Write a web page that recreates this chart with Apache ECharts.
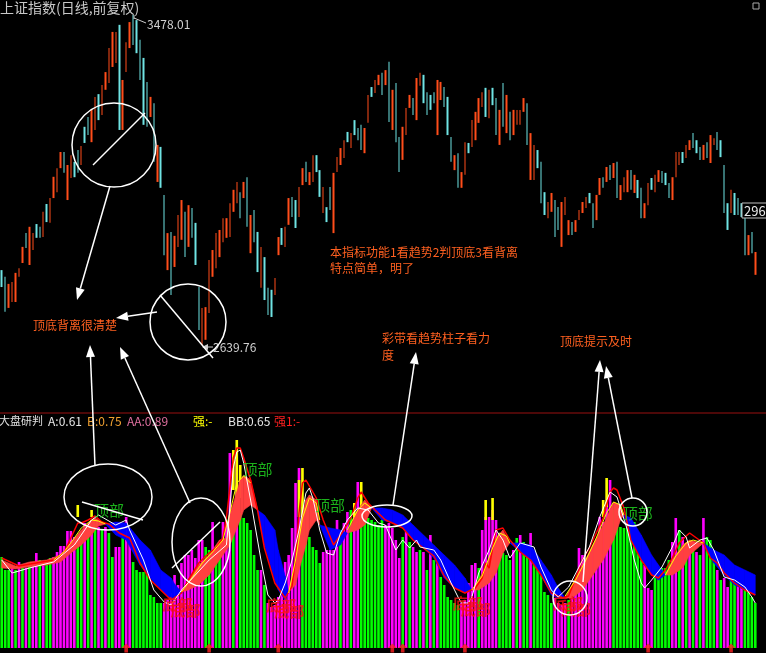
<!DOCTYPE html>
<html><head><meta charset="utf-8">
<script src="https://cdn.jsdelivr.net/npm/echarts@6/dist/echarts.min.js"></script>
<style>html,body{margin:0;padding:0;background:#000;}#c{width:766px;height:653px;}</style>
</head><body><div id="c"></div><script>
// ---------- top panel: daily bars (high / low / up-down) ----------
const highs = [2830,2813,2795,2800,2823,2835,2889,2924,2940,2924,
2947,2940,2978,2998,3013,3067,3089,3130,3130,3097,
3122,3105,3135,3145,3194,3219,3237,3270,3277,3300,
3333,3394,3435,3435,3453,3313,3409,3460,3478,3465,
3415,3369,3308,3270,3254,3148,3143,3021,2924,2927,
2917,2970,3008,2978,2995,2988,2950,2787,2734,2736,
2856,2881,2924,2932,2962,2962,3000,3034,3054,3028,
3054,3066,2970,2983,2927,2889,2863,2785,2780,2810,
2914,2937,2940,3013,3016,3008,3041,3089,3105,3079,
3122,3122,3084,3041,2990,3041,3077,3117,3140,3160,
3181,3178,3211,3191,3199,3191,3275,3295,3313,3326,
3331,3338,3359,3288,3305,3168,3194,3242,3275,3267,
3318,3331,3326,3282,3275,3282,3313,3308,3295,3270,
3168,3122,3127,3079,3155,3153,3211,3232,3267,3282,
3293,3288,3293,3267,3237,3305,3275,3232,3237,3237,
3237,3267,3254,3178,3148,3135,3105,3028,3003,3026,
3008,2990,3003,3016,2957,2952,2957,2983,3003,3016,
3026,3000,3021,3064,3066,3092,3097,3102,3105,3046,
3066,3084,3084,3072,3059,3039,3000,3051,3064,3072,
3084,3082,3077,3051,3066,3130,3130,3130,3148,3160,
3178,3160,3143,3148,3155,3173,3165,3181,3160,3097,
3000,3034,3026,3013,3000,2965,2919,2927,2876];
const lows = [2787,2724,2734,2749,2749,2813,2848,2886,2843,2881,
2912,2912,2914,2952,2950,3013,3028,3089,3077,3008,
3064,3066,3077,3097,3153,3173,3155,3186,3211,3224,
3288,3305,3346,3356,3186,3186,3333,3394,3402,3381,
3313,3199,3194,3219,3105,3054,3039,2868,2830,2767,
2838,2889,2907,2863,2889,2912,2843,2678,2640,2653,
2721,2813,2835,2863,2901,2912,2914,2978,3000,2962,
3013,2940,2873,2901,2825,2785,2754,2716,2711,2767,
2868,2894,2889,2945,2965,2937,2965,3046,3054,3046,
3054,3079,3016,2975,2952,2983,2924,3079,3097,3115,
3155,3140,3173,3160,3135,3127,3204,3270,3280,3300,
3275,3300,3206,3186,3155,3079,3110,3173,3242,3224,
3211,3298,3254,3224,3237,3254,3173,3262,3244,3173,
3105,3084,3039,3039,3072,3127,3143,3160,3204,3244,
3219,3216,3249,3173,3148,3194,3178,3160,3173,3199,
3199,3232,3148,3059,3059,3089,3000,2970,2962,2978,
2914,2932,2889,2970,2919,2919,2927,2957,2975,2988,
3000,2937,2957,3021,3039,3054,3059,3064,3013,3008,
3028,3028,3034,3026,3013,2962,2962,2995,3034,3028,
3054,3051,3046,3013,3008,3066,3097,3102,3115,3135,
3140,3127,3110,3110,3115,3102,3148,3135,3117,2975,
2932,2975,2970,2970,2965,2868,2868,2873,2818];
const upFlags = "0011111011"+"0010111101"+"1001001101"+"1111011100"+"0001010010"+"1110100011"+"1111111110"+"1010010001"+"1011001101"+"1001001111"+"0100011011"+"0101001110"+"1100001100"+"0101101111"+"0100101011"+"1101100011"+"0011101111"+"0011010101"+"1101001101"+"1000111011"+"0001011000"+"010000101";

// ---------- bottom panel: indicator ----------
const colVals = [91,78,78,81,78,86,80,80,83,83,
95,88,86,88,90,91,96,102,102,117,
117,111,108,115,125,115,128,125,121,118,
121,115,91,101,101,110,131,110,86,78,
76,76,76,53,51,45,45,45,48,55,
73,63,85,93,93,98,90,108,108,101,
98,126,93,98,126,126,195,136,188,135,
130,125,118,93,78,78,63,45,41,43,
51,65,86,93,120,165,180,141,138,111,
101,98,85,96,98,98,98,128,111,125,
136,138,135,166,131,128,130,128,126,123,
128,123,125,120,108,90,111,118,106,101,
96,98,96,78,113,88,91,71,63,51,
48,45,43,45,48,65,83,85,80,118,
131,131,138,128,111,95,93,88,98,110,
113,106,98,115,90,83,83,56,53,45,
50,45,43,45,48,61,68,100,93,85,
90,100,108,131,126,146,168,138,140,121,
120,130,125,126,108,88,83,60,58,71,
78,80,80,88,106,130,118,111,105,101,
98,96,93,130,111,108,98,78,68,70,
61,68,65,75,71,61,56,51,45];
const colColors = "gggmgmgmgm"+"mgmggmmmmm"+"mmggmgmgmg"+"mggmmgmmgg"+"gggggggmmm"+"mmmmmmmmmg"+"gmggmmmgmg"+"gggggmgmmm"+"mmmmmmmggg"+"gggmmmmmgm"+"mgmmgggggg"+"gmmmmmgmgm"+"mgmgmgmggg"+"gggmmmmmgm"+"mmmmggggmg"+"mggmgggggg"+"mmmmgmmmmm"+"mmmmmmmggg"+"ggggggmmmg"+"ggggmmgmgm"+"gmgmgggmgm"+"mggmmgggg";
// yellow strength bars: [index, bottom, top]
const yellowBars = [[22,131,143],[26,131,138],[67,158,198],[68,150,208],[69,150,183],[86,131,168],[87,131,180],[102,131,145],[104,141,166],[140,128,148],[142,128,150],[174,131,148],[175,141,170]];
// ribbon: [index, fast, slow]
const bandPts = [[0,88,80],[4,82,79],[8,86,81],[13,88,83],[17,93,86],[20,105,95],[23,118,103],[26,128,113],[27,130,118],[28,128,122],[30,124,124],[33,113,126],[36,108,125],[40,83,108],[43,70,98],[46,58,78],[49,48,70],[50,50,64],[52,56,56],[54,68,58],[57,83,63],[60,93,73],[63,108,88],[65,110,98],[66,133,103],[69,168,128],[70,173,138],[72,168,143],[74,138,138],[76,103,133],[79,68,118],[80,58,98],[82,48,72],[83,56,56],[85,88,63],[86,118,78],[88,148,103],[89,153,118],[91,148,128],[92,123,123],[95,98,120],[98,103,118],[100,115,115],[103,138,118],[105,148,123],[107,140,140],[110,128,140],[113,125,138],[116,120,133],[119,108,123],[122,100,113],[125,90,103],[128,70,93],[131,60,83],[134,55,70],[136,58,58],[138,68,58],[141,88,65],[143,110,75],[145,118,95],[147,105,105],[150,96,105],[153,88,103],[156,73,88],[159,53,73],[161,50,60],[163,50,50],[165,63,50],[168,83,58],[171,103,73],[174,123,88],[177,146,108],[179,143,128],[180,133,133],[182,108,130],[185,88,113],[188,73,93],[190,68,83],[192,73,73],[194,88,73],[197,103,80],[199,108,93],[202,105,102],[203,105,105],[206,85,98],[209,73,93],[212,63,83],[215,58,78],[218,53,73]];
const whiteLine = [[0,88],[3,75],[8,80],[15,86],[21,103],[26,128],[28,133],[33,123],[36,128],[37,118],[41,88],[44,58],[47,46],[49,43],[52,58],[56,73],[60,88],[65,103],[66,140],[67,180],[68,196],[69,198],[70,185],[72,148],[75,88],[77,53],[79,45],[80,48],[82,65],[84,88],[86,118],[88,155],[89,160],[90,150],[92,118],[94,95],[96,93],[98,115],[100,128],[103,140],[106,138],[109,125],[111,123],[114,98],[116,108],[118,100],[120,108],[121,101],[125,98],[127,88],[130,65],[132,51],[133,45],[135,45],[136,51],[138,75],[141,98],[143,118],[145,108],[147,90],[150,105],[154,101],[156,81],[159,58],[161,51],[164,61],[167,81],[170,101],[173,131],[176,156],[178,151],[181,118],[183,88],[185,65],[186,60],[188,68],[191,81],[194,101],[196,118],[198,111],[199,100],[202,108],[204,110],[206,98],[209,71],[212,68],[215,61],[217,51],[218,45]];
const redLine = [[0,90],[5,82],[10,85],[15,88],[18,95],[20,110],[22,125],[23,125],[25,128],[27,132],[29,126],[31,124],[34,115],[37,110],[40,85],[43,68],[46,58],[49,48],[52,55],[54,68],[57,85],[60,95],[62,100],[64,110],[65,130],[66,160],[67,190],[68,200],[69,200],[70,190],[72,168],[74,138],[76,100],[79,65],[82,50],[84,62],[85,90],[86,135],[87,165],[88,168],[89,162],[91,150],[93,128],[96,103],[99,118],[101,130],[103,150],[104,156],[106,145],[108,138],[111,128],[113,125],[116,120],[119,108],[122,100],[125,92],[128,72],[131,60],[134,55],[137,60],[139,70],[140,85],[141,80],[142,100],[143,118],[145,120],[147,108],[150,96],[153,88],[156,73],[159,55],[162,50],[164,52],[166,70],[168,88],[170,100],[172,115],[174,130],[176,156],[177,160],[178,158],[180,140],[182,108],[185,88],[188,73],[190,70],[192,78],[194,90],[196,105],[198,112],[199,115],[201,110],[203,105],[205,90],[207,85],[209,75],[212,65],[215,58],[218,53]];
const yellowSegs = [
 [[15,88],[18,96],[21,110],[23,120],[26,128],[28,127],[30,124]],
 [[52,56],[55,70],[58,85],[61,96],[64,108],[66,135],[68,165],[70,172],[72,165]],
 [[83,55],[85,88],[87,130],[89,150],[91,145],[92,128]],
 [[100,118],[103,138],[105,145],[107,140]],
 [[136,58],[139,72],[142,100],[144,115],[146,112],[147,105]],
 [[163,52],[166,68],[169,88],[172,110],[175,135],[177,146],[179,143],[180,133]],
 [[192,73],[195,92],[198,105],[200,108],[203,105]]];
const topMarks = [[31,138],[74,179],[95,143],[184,135]];
const bottomMarks = [[52,41],[82,40],[136,42],[165,42]];
const arrowMarks = [[36,0],[60,0],[80,0],[113,0],[116,0],[134,0],[187,0],[211,0]];

const N = highs.length;
const cats = Array.from({length:N},(_,i)=>i);
const candles = highs.map((h,i)=> upFlags[i]==='1' ? [lows[i],h,lows[i],h] : [h,lows[i],lows[i],h]);
const cols = colVals.map((v,i)=>({value:v,itemStyle:{color: colColors[i]==='g' ? '#00ff00' : '#ff00ff'}}));
const bandSegs = [];
for (let k=0;k<bandPts.length-1;k++){const a=bandPts[k],b=bandPts[k+1];bandSegs.push([a[0],a[1],a[2],b[0],b[1],b[2]]);}

const FONT = '"Noto Sans CJK SC", "Noto Sans", sans-serif';
const ORANGE = '#ff6020';
function arrow(x1,y1,x2,y2,len,half,color,lw){
  len=len||12; half=half||4.5; color=color||'#fff'; lw=lw||1.5;
  const dx=x2-x1, dy=y2-y1, L=Math.hypot(dx,dy), ux=dx/L, uy=dy/L;
  const bx=x2-ux*len, by=y2-uy*len, nx=-uy, ny=ux;
  return [
    {type:'line', z:100, shape:{x1:x1,y1:y1,x2:bx,y2:by}, style:{stroke:color,lineWidth:lw}},
    {type:'polygon', z:100, shape:{points:[[x2,y2],[bx+nx*half,by+ny*half],[bx-nx*half,by-ny*half]]}, style:{fill:color}}
  ];
}
function txt(x,y,t,fill,size,extra){
  return Object.assign({type:'text', z:100, x:x, y:y, style:{text:t, fill:fill, font:(size||12)+'px '+FONT, verticalAlign:'middle'}}, extra||{});
}
const W = {stroke:'#fff', lineWidth:1.5, fill:null};
const graphics = [].concat(
  [txt(0,8,'上证指数(日线,前复权)','#c8c8c8',14)],
  [{type:'rect', z:100, shape:{x:753,y:3,width:6,height:6}, style:{stroke:'#aaa',fill:null}}],
  // peak / trough price tags
  [{type:'line', z:100, shape:{x1:134,y1:18,x2:146,y2:23}, style:{stroke:'#ccc',lineWidth:1}},
   {type:'line', z:100, shape:{x1:134,y1:15,x2:134,y2:19}, style:{stroke:'#ccc',lineWidth:1}},
   txt(147,24,'3478.01','#d0d0d0',12)],
  arrow(213,347,202,347,6,3,'#ccc',1),
  [txt(213,347,'2639.76','#d0d0d0',12)],
  [{type:'rect', z:100, shape:{x:742,y:203,width:30,height:15}, style:{stroke:'#c0c0c0',fill:'#000'}},
   txt(744,211,'2963.21','#e8e8e8',13)],
  // top annotations
  [{type:'circle', z:100, shape:{cx:114,cy:145,r:42}, style:W},
   {type:'line', z:100, shape:{x1:93,y1:165,x2:145,y2:113}, style:W},
   {type:'circle', z:100, shape:{cx:188,cy:322,r:38}, style:W},
   {type:'line', z:100, shape:{x1:160,y1:295,x2:213,y2:358}, style:W}],
  arrow(110,186,77,300),
  arrow(157,312,116,318),
  [txt(33,325,'顶底背离很清楚',ORANGE,12),
   txt(330,252,'本指标功能1看趋势2判顶底3看背离',ORANGE,12),
   txt(330,268,'特点简单，明了',ORANGE,12),
   txt(382,338,'彩带看趋势柱子看力',ORANGE,12),
   txt(382,355,'度',ORANGE,12),
   txt(560,341,'顶底提示及时',ORANGE,12)],
  // separator + header
  [{type:'line', z:100, shape:{x1:0,y1:413,x2:766,y2:413}, style:{stroke:'#9a1010',lineWidth:1}},
   txt(-1,421,'大盘研判','#e0e0e0',11),
   txt(48,421,'A:0.61','#e8e8e8',12),
   txt(87,421,'B:0.75','#f0a030',12),
   txt(127,421,'AA:0.89','#e070a0',12),
   txt(193,421,'强:-','#ffff00',12),
   txt(228,421,'BB:0.65','#e8e8e8',12),
   txt(274,421,'强1:-','#ff2020',12)],
  // bottom annotations
  [{type:'ellipse', z:100, shape:{cx:108,cy:497,rx:44,ry:33}, style:W},
   {type:'line', z:100, shape:{x1:82,y1:502,x2:143,y2:520}, style:W},
   {type:'ellipse', z:100, shape:{cx:201,cy:542,rx:29,ry:44}, style:W},
   {type:'line', z:100, shape:{x1:172,y1:568,x2:220,y2:522}, style:W},
   {type:'ellipse', z:100, shape:{cx:387,cy:516,rx:25,ry:11}, style:W},
   {type:'circle', z:100, shape:{cx:570,cy:598,r:17}, style:W},
   {type:'circle', z:100, shape:{cx:633,cy:512,r:14}, style:W}],
  arrow(95,466,90,345),
  arrow(190,503,120,347),
  arrow(393,505,416,352),
  arrow(583,582,600,360),
  arrow(632,498,606,366)
);

const chart = echarts.init(document.getElementById('c'), null, {renderer:'canvas'});
const xAx = (gi)=>({type:'category', gridIndex:gi, data:cats, show:false, boundaryGap:true});
const series = [
  {type:'candlestick', xAxisIndex:0, yAxisIndex:0, data:candles, barWidth:2,
   itemStyle:{color:'#ff4d1a', color0:'#6fe3e3', borderColor:'#ff4d1a', borderColor0:'#6fe3e3', borderWidth:0}},
  {type:'bar', xAxisIndex:1, yAxisIndex:1, data:cols, barWidth:'76%', z:1},
  {type:'custom', xAxisIndex:1, yAxisIndex:1, data:yellowBars, z:2, encode:{x:0,y:[1,2]},
   renderItem:function(p,api){
     const a=api.coord([api.value(0),api.value(2)]), b=api.coord([api.value(0),api.value(1)]);
     const w=api.size([1,0])[0]*0.76;
     return {type:'rect', shape:{x:a[0]-w/2,y:a[1],width:w,height:b[1]-a[1]}, style:{fill:'#ffff00'}};
   }},
  {type:'custom', xAxisIndex:1, yAxisIndex:1, data:bandSegs, z:3, encode:{x:[0,3],y:[1,2,4,5]},
   renderItem:function(p,api){
     const i0=api.value(0),f0=api.value(1),s0=api.value(2),i1=api.value(3),f1=api.value(4),s1=api.value(5);
     const F0=api.coord([i0,f0]),S0=api.coord([i0,s0]),F1=api.coord([i1,f1]),S1=api.coord([i1,s1]);
     const d0=f0-s0,d1=f1-s1,RED='#ff4040',BLUE='#0000ff';
     if (d0*d1>=0){const c=(d0+d1)>=0?RED:BLUE;return {type:'polygon',shape:{points:[F0,F1,S1,S0]},style:{fill:c,stroke:c,lineWidth:0.6}};}
     const t=d0/(d0-d1);const C=[F0[0]+t*(F1[0]-F0[0]),F0[1]+t*(F1[1]-F0[1])];
     return {type:'group',children:[
       {type:'polygon',shape:{points:[F0,C,S0]},style:{fill:d0>0?RED:BLUE}},
       {type:'polygon',shape:{points:[C,F1,S1]},style:{fill:d1>0?RED:BLUE}}]};
   }},
  {type:'line', xAxisIndex:1, yAxisIndex:1, data:redLine, symbol:'none', z:4, lineStyle:{color:'#ff0000',width:1.5}},
];
yellowSegs.forEach(s=>series.push({type:'line', xAxisIndex:1, yAxisIndex:1, data:s, symbol:'none', z:4, lineStyle:{color:'#ffff00',width:1}}));
series.push({type:'line', xAxisIndex:1, yAxisIndex:1, data:whiteLine, symbol:'none', z:5, lineStyle:{color:'#ffffff',width:1}});
series.push({type:'scatter', xAxisIndex:1, yAxisIndex:1, data:topMarks, symbolSize:1, z:6, itemStyle:{color:'rgba(0,0,0,0)'},
  label:{show:true, position:'inside', formatter:'顶部', color:'#22dd22', fontSize:15, fontFamily:FONT}});
[[-4,-3],[4,3]].forEach(o=>series.push({type:'scatter', xAxisIndex:1, yAxisIndex:1, data:bottomMarks, symbolSize:1, z:6, itemStyle:{color:'rgba(0,0,0,0)'},
  label:{show:true, position:'inside', offset:o, formatter:'底部', color:'#ff1010', fontSize:15, fontWeight:'bold', fontFamily:FONT}}));
series.push({type:'scatter', xAxisIndex:1, yAxisIndex:1, data:arrowMarks, z:6, clip:false,
  symbol:'path://M5,0 L10,5 L7,5 L7,10 L3,10 L3,5 L0,5 Z', symbolSize:[9,9], itemStyle:{color:'#ff2020'}});

chart.setOption({
  backgroundColor:'#000',
  animation:false,
  textStyle:{fontFamily:FONT},
  grid:[{left:0,right:9,top:0,height:412},{left:0,right:9,top:428,height:220}],
  xAxis:[xAx(0),xAx(1)],
  yAxis:[{type:'value',gridIndex:0,min:2469.6,max:3516.1,show:false},{type:'value',gridIndex:1,min:0,max:220,show:false}],
  series:series,
  graphic:graphics
});
</script></body></html>
